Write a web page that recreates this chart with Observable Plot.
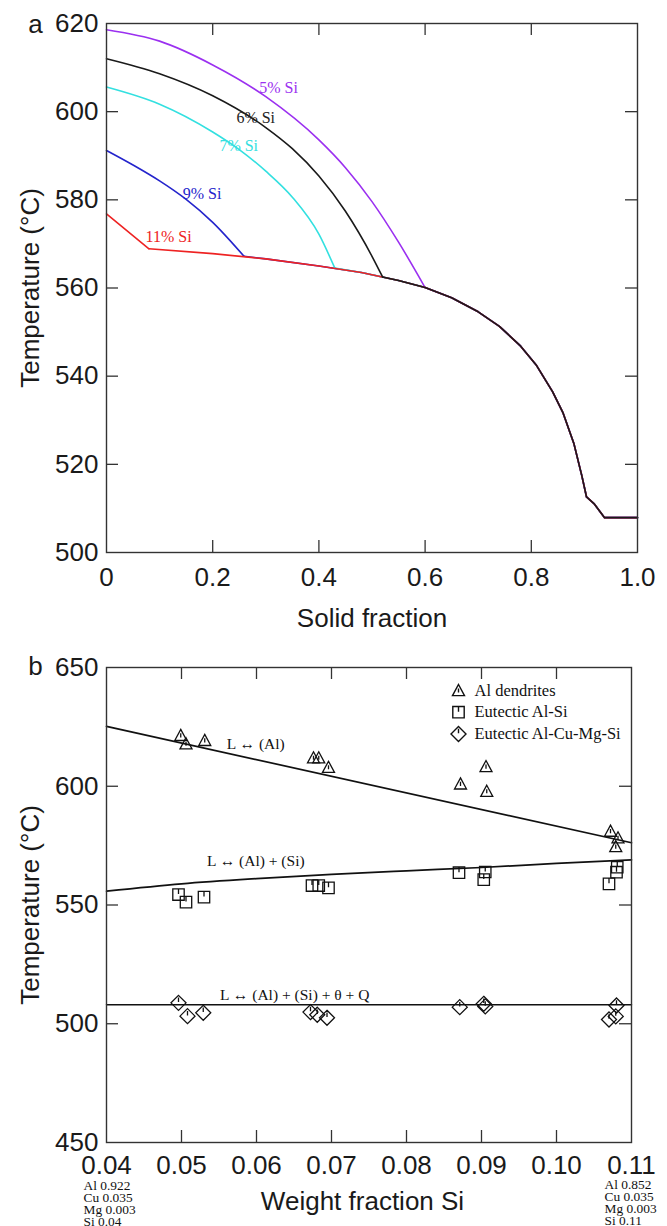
<!DOCTYPE html>
<html><head><meta charset="utf-8">
<script src="https://cdn.jsdelivr.net/npm/d3@7"></script>
<script src="https://cdn.jsdelivr.net/npm/@observablehq/plot@0.6"></script>
<style>
html,body{margin:0;padding:0;background:#fff;}
#chart svg{display:block;}
</style></head><body><div id="chart"></div>
<script>
// ================= Panel a : solidification paths =================
const seriesNames  = ["9% Si", "7% Si", "5% Si", "11% Si", "6% Si"];
const seriesColors = ["#2424cc", "#33e0e0", "#9b30f0", "#ee2222", "#1a1a1a"];
const liq9  = [[0,591.2],[0.05,587.9],[0.1,584.3],[0.15,580.1],[0.2,574.9],[0.259,567.2]];
const liq7  = [[0,605.6],[0.1,601.7],[0.2,595.4],[0.25,591.4],[0.3,586.5],[0.35,580.6],[0.4,572.2],[0.43,564.5]];
const liq5  = [[0,618.6],[0.1,616.0],[0.2,610.6],[0.3,603.4],[0.4,593.6],[0.45,587.3],[0.5,579.6],[0.55,570.4],[0.6,560.1]];
const liq11 = [[0,576.8],[0.08,568.9]];
const liq6  = [[0,612.0],[0.1,608.6],[0.2,603.6],[0.3,596.4],[0.35,591.6],[0.4,585.4],[0.45,577.4],[0.5,567.2],[0.52,562.5]];
const liquidus = [liq9, liq7, liq5, liq11, liq6];
const eutecticPath = [[0.08,568.9],[0.2,567.8],[0.3,566.6],[0.4,565.0],[0.48,563.5],[0.55,561.7],[0.6,560.1],[0.65,557.8],[0.7,554.6],[0.74,551.3],[0.78,546.8],[0.81,542.4],[0.84,536.5],[0.86,531.6],[0.88,524.8],[0.895,517.5],[0.904,512.6],[0.918,511.1],[0.938,507.9],[1.0,507.9]];
const labelTextA  = ["5% Si", "6% Si", "7% Si", "9% Si", "11% Si"];
const labelColorA = ["#9b30f0", "#222222", "#33e0e0", "#2424cc", "#ee2222"];
const labelXA = [0.324, 0.281, 0.249, 0.180, 0.117];
const labelYA = [605.5, 598.6, 592.2, 581.4, 571.7];
const xTicksA = [0, 0.2, 0.4, 0.6, 0.8, 1.0];
const yTicksA = [500, 520, 540, 560, 580, 600, 620];

// ================= Panel b : temperatures vs Si =================
const lineAl    = [[0.04,625.2],[0.11,576.2]];
const lineAlSi  = [[0.04,555.8],[0.05,558.9],[0.06,561.1],[0.07,562.9],[0.08,564.4],[0.09,565.8],[0.10,567.5],[0.11,569.0]];
const lineQuat  = [[0.04,508.0],[0.11,508.0]];
const dendrites = [[0.0499,621.4],[0.0506,617.9],[0.0531,619.3],[0.0676,612.0],[0.0683,612.0],[0.0696,608.0],[0.0872,601.0],[0.0906,608.3],[0.0907,597.9],[0.1072,581.1],[0.1082,578.3],[0.1079,574.6]];
const eutAlSi   = [[0.0496,554.4],[0.0506,551.2],[0.053,553.3],[0.0674,558.2],[0.0683,558.2],[0.0696,557.2],[0.087,563.6],[0.0905,563.9],[0.0903,560.7],[0.1081,565.9],[0.108,563.8],[0.107,558.9]];
const eutQuat   = [[0.0496,508.8],[0.0508,503.2],[0.0529,504.6],[0.0672,504.9],[0.0681,503.8],[0.0694,502.5],[0.0871,507.0],[0.0903,508.4],[0.0905,507.3],[0.108,507.7],[0.107,501.8],[0.1079,503.1]];
const lineLabelText = ["L \u2194 (Al)", "L \u2194 (Al) + (Si)", "L \u2194 (Al) + (Si) + \u03b8 + Q"];
const lineLabelX = [0.0599, 0.0599, 0.0651];
const lineLabelY = [617.9, 568.7, 511.9];
const legendLabels = ["Al dendrites", "Eutectic Al-Si", "Eutectic Al-Cu-Mg-Si"];
const compLeft  = ["Al 0.922", "Cu 0.035", "Mg 0.003", "Si 0.04"];
const compRight = ["Al 0.852", "Cu 0.035", "Mg 0.003", "Si 0.11"];
const compX = [0.04, 0.11];
const xTicksB = [0.04, 0.05, 0.06, 0.07, 0.08, 0.09, 0.10, 0.11];
const yTicksB = [450, 500, 550, 600, 650];

// ---------- helpers ----------
const SANS = "'Liberation Sans', Arial, Helvetica, sans-serif";
const SERIF = "'Liberation Serif', 'Times New Roman', serif";
const INK = "#333";
const px = d => d[0], py = d => d[1];

const triSym = {draw(c, size){ const r = Math.sqrt(size/Math.PI);
  c.moveTo(0,-1.0*r); c.lineTo(1.0*r,0.85*r); c.lineTo(-1.0*r,0.85*r); c.closePath();
  c.moveTo(0,-0.35*r); c.lineTo(0,0.35*r); }};
const sqSym = {draw(c, size){ const r = Math.sqrt(size/Math.PI), h = 0.95*r;
  c.moveTo(-h,-h); c.lineTo(h,-h); c.lineTo(h,h); c.lineTo(-h,h); c.closePath();
  c.moveTo(0,-h); c.lineTo(0,-0.1*h); }};
const diaSym = {draw(c, size){ const r = Math.sqrt(size/Math.PI), d = 1.25*r;
  c.moveTo(0,-d); c.lineTo(d,0); c.lineTo(0,d); c.lineTo(-d,0); c.closePath();
  c.moveTo(0,-0.7*d); c.lineTo(0,-0.1*d); }};
const markerSets = [dendrites, eutAlSi, eutQuat];
const markerSyms = [triSym, sqSym, diaSym];

function frameTicks(xt, yt, fw, fh, len) {
  return [
    Plot.ruleX(xt, {x: d => d, insetTop: fh - len, stroke: INK, strokeWidth: 1.3}),
    Plot.ruleX(xt, {x: d => d, insetBottom: fh - len, stroke: INK, strokeWidth: 1.3}),
    Plot.ruleY(yt, {y: d => d, insetRight: fw - len, stroke: INK, strokeWidth: 1.3}),
    Plot.ruleY(yt, {y: d => d, insetLeft: fw - len, stroke: INK, strokeWidth: 1.3})
  ];
}

// ---------- Panel a ----------
const A = {w: 667, h: 640, ml: 106, mr: 30, mt: 23, mb: 88};
const fwA = A.w - A.ml - A.mr, fhA = A.h - A.mt - A.mb;
const marksA = [];
liquidus.forEach((liq, i) => {
  const last = liq[liq.length - 1];
  const cont = [last, ...eutecticPath.filter(p => p[0] > last[0])];
  marksA.push(Plot.line(liq, {x: px, y: py, stroke: seriesColors[i], strokeWidth: 1.6, curve: "monotone-x"}));
  marksA.push(Plot.line(cont, {x: px, y: py, stroke: seriesColors[i], strokeWidth: 1.6}));
});
labelTextA.forEach((t, i) => {
  marksA.push(Plot.text([t], {x: () => labelXA[i], y: () => labelYA[i], text: d => d, fill: labelColorA[i], fontFamily: SERIF, fontSize: 16}));
});
const plotA = Plot.plot({
  width: A.w, height: A.h, marginLeft: A.ml, marginRight: A.mr, marginTop: A.mt, marginBottom: A.mb,
  x: {domain: [0, 1], label: null},
  y: {domain: [500, 620], label: null},
  style: {fontFamily: SANS, fontSize: "26px", color: "#1a1a1a", background: "#fff", overflow: "visible"},
  marks: [
    ...marksA,
    ...frameTicks(xTicksA.slice(1, -1), yTicksA.slice(1, -1), fwA, fhA, 12),
    Plot.axisX(xTicksA, {tickSize: 0, tickPadding: 15, label: null, tickFormat: d => d === 0 ? "0" : d.toFixed(1)}),
    Plot.axisY(yTicksA, {tickSize: 0, tickPadding: 8, label: null}),
    Plot.frame({stroke: INK, strokeWidth: 1.4}),
    Plot.text(["Solid fraction"], {frameAnchor: "bottom", lineAnchor: "middle", textAnchor: "middle", dy: 66, fontSize: 26}),
    Plot.text(["Temperature (\u00b0C)"], {frameAnchor: "left", lineAnchor: "middle", textAnchor: "middle", dx: -76, rotate: -90, fontSize: 26}),
    Plot.text(["a"], {frameAnchor: "top-left", lineAnchor: "middle", textAnchor: "middle", dx: -71, dy: 1.5, fontSize: 26})
  ]
});

// ---------- Panel b ----------
const B = {w: 667, h: 586, ml: 106, mr: 36, mt: 27, mb: 84};
const fwB = B.w - B.ml - B.mr, fhB = B.h - B.mt - B.mb;
const marksB = [
  Plot.line(lineAl, {x: px, y: py, stroke: "#111", strokeWidth: 1.7}),
  Plot.line(lineAlSi, {x: px, y: py, stroke: "#111", strokeWidth: 1.7, curve: "monotone-x"}),
  Plot.line(lineQuat, {x: px, y: py, stroke: "#111", strokeWidth: 1.5})
];
markerSets.forEach((set, i) => {
  marksB.push(Plot.dot(set, {x: px, y: py, symbol: markerSyms[i], r: 6, stroke: "#111", strokeWidth: 1.3, fill: "none"}));
});
lineLabelText.forEach((t, i) => {
  marksB.push(Plot.text([t], {x: () => lineLabelX[i], y: () => lineLabelY[i], text: d => d, fontFamily: SERIF, fontSize: 15.5, fill: "#111"}));
});
legendLabels.forEach((t, i) => {
  marksB.push(Plot.dot([t], {frameAnchor: "top-right", dx: -173, dy: 23 + i * 21.7, symbol: markerSyms[i], r: 6, stroke: "#111", strokeWidth: 1.4, fill: "none"}));
  marksB.push(Plot.text([t], {frameAnchor: "top-right", lineAnchor: "middle", dx: -157, dy: 23 + i * 21.7, textAnchor: "start", fontFamily: SERIF, fontSize: 16.5, fill: "#111"}));
});
[compLeft, compRight].forEach((comp, i) => {
  marksB.push(Plot.text([comp.join("\n")], {x: () => compX[i], frameAnchor: "bottom", dx: i === 0 ? -23 : -27, dy: i === 0 ? 39.5 : 38.5, textAnchor: "start", lineAnchor: "top", lineHeight: 0.88, fontFamily: SERIF, fontSize: 13.4, fill: "#111"}));
});
const plotB = Plot.plot({
  width: B.w, height: B.h, marginLeft: B.ml, marginRight: B.mr, marginTop: B.mt, marginBottom: B.mb,
  x: {domain: [0.04, 0.11], label: null},
  y: {domain: [450, 650], label: null},
  style: {fontFamily: SANS, fontSize: "26px", color: "#1a1a1a", background: "#fff", overflow: "visible"},
  marks: [
    ...marksB,
    ...frameTicks(xTicksB.slice(1, -1), yTicksB.slice(1, -1), fwB, fhB, 12),
    Plot.axisX(xTicksB, {tickSize: 0, tickPadding: 13, label: null, tickFormat: d3.format(".2f")}),
    Plot.axisY(yTicksB, {tickSize: 0, tickPadding: 8, label: null}),
    Plot.frame({stroke: INK, strokeWidth: 1.4}),
    Plot.text(["Weight fraction Si"], {frameAnchor: "bottom", lineAnchor: "middle", textAnchor: "middle", dx: -6.5, dy: 58.7, fontSize: 26}),
    Plot.text(["Temperature (\u00b0C)"], {frameAnchor: "left", lineAnchor: "middle", textAnchor: "middle", dx: -76, rotate: -90, fontSize: 26}),
    Plot.text(["b"], {frameAnchor: "top-left", lineAnchor: "middle", textAnchor: "middle", dx: -71, dy: -0.5, fontSize: 26})
  ]
});

const root = document.getElementById("chart");
root.appendChild(plotA);
root.appendChild(plotB);
</script></body></html>
